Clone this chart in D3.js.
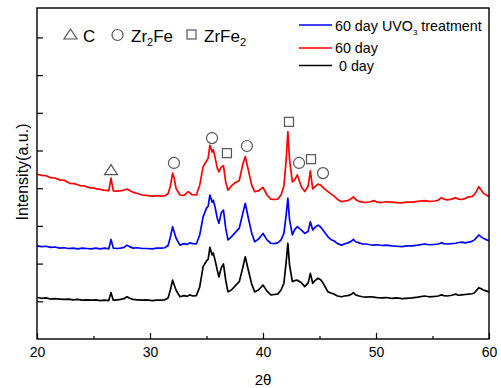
<!DOCTYPE html>
<html><head><meta charset="utf-8">
<script src="https://cdn.jsdelivr.net/npm/d3@7"></script>
<style>body{margin:0;background:#fff}svg{display:block;font-family:"Liberation Sans",Arial,sans-serif}</style>
</head><body><svg id="c" width="501" height="388"></svg>
<script>
// 2θ, intensity (a.u.)
const red60 = [[20,4.37],[20.4,4.34],[20.8,4.33],[21.2,4.28],[21.6,4.27],[22,4.22],[22.4,4.21],[22.9,4.13],[23.3,4.12],[23.8,4.07],[24.2,4.06],[24.7,4.01],[25.0,4.01],[25.3,3.98],[25.6,3.97],[25.9,3.95],[26.2,3.94],[26.35,3.93],[26.55,4.27],[26.75,3.93],[27.0,3.92],[27.3,3.93],[27.6,3.94],[27.96,3.98],[28.2,3.94],[28.5,3.89],[28.9,3.86],[29.3,3.82],[29.7,3.81],[30.2,3.79],[30.6,3.80],[31.0,3.79],[31.3,3.80],[31.6,3.85],[31.8,4.05],[32.0,4.40],[32.15,4.25],[32.3,4.00],[32.65,3.82],[33.0,3.81],[33.4,3.91],[33.7,3.83],[34.1,3.82],[34.4,4.08],[34.7,4.57],[35.0,4.72],[35.15,4.80],[35.3,5.14],[35.5,4.96],[35.6,5.02],[35.75,4.83],[35.95,4.54],[36.1,4.43],[36.3,4.56],[36.5,4.60],[36.7,4.16],[36.9,3.95],[37.2,4.06],[37.6,4.16],[37.9,4.20],[38.2,4.62],[38.43,4.84],[38.7,4.48],[39.0,4.08],[39.26,3.91],[39.6,3.93],[40.0,4.02],[40.35,3.82],[40.7,3.71],[41.0,3.70],[41.3,3.71],[41.6,3.82],[41.85,4.06],[42.05,4.75],[42.2,5.50],[42.35,4.75],[42.6,4.17],[42.8,4.22],[43.04,4.35],[43.4,4.03],[43.7,3.91],[44.0,4.06],[44.19,4.46],[44.4,3.98],[44.6,4.04],[44.87,4.11],[45.1,4.08],[45.3,4.02],[45.75,3.91],[46.0,3.85],[46.3,3.79],[46.6,3.70],[46.96,3.64],[47.2,3.66],[47.5,3.67],[47.8,3.72],[48.0,3.77],[48.2,3.70],[48.5,3.65],[48.8,3.63],[49.1,3.62],[49.5,3.64],[49.8,3.67],[50.1,3.63],[50.5,3.62],[50.9,3.64],[51.4,3.63],[51.8,3.62],[52.3,3.61],[52.7,3.63],[53.2,3.63],[53.7,3.65],[54.3,3.67],[54.7,3.65],[55.2,3.66],[55.5,3.68],[55.8,3.75],[56.0,3.71],[56.3,3.69],[56.7,3.71],[57.05,3.75],[57.3,3.71],[57.6,3.70],[57.9,3.73],[58.2,3.77],[58.5,3.78],[58.7,3.83],[58.9,3.92],[59.1,4.04],[59.3,3.95],[59.5,3.87],[59.8,3.81],[60,3.78]];
const blueUVO = [[20,2.47],[20.4,2.45],[20.8,2.46],[21.2,2.43],[21.6,2.44],[22,2.41],[22.4,2.42],[22.8,2.40],[23.2,2.41],[23.6,2.39],[24,2.41],[24.4,2.40],[24.8,2.39],[25.2,2.41],[25.6,2.39],[26,2.41],[26.35,2.39],[26.55,2.64],[26.75,2.41],[27.1,2.40],[27.4,2.41],[27.7,2.43],[27.96,2.49],[28.2,2.45],[28.5,2.41],[28.9,2.42],[29.3,2.40],[29.7,2.40],[30.2,2.39],[30.6,2.41],[31.0,2.41],[31.3,2.42],[31.6,2.48],[31.8,2.70],[32.0,2.98],[32.3,2.68],[32.65,2.49],[33.0,2.53],[33.3,2.51],[33.5,2.55],[33.8,2.53],[34.1,2.52],[34.4,2.76],[34.7,3.24],[35.0,3.47],[35.15,3.52],[35.3,3.82],[35.5,3.63],[35.6,3.68],[35.75,3.51],[35.95,3.21],[36.1,3.07],[36.3,3.34],[36.5,3.42],[36.7,2.94],[36.9,2.63],[37.2,2.71],[37.6,2.84],[37.9,2.94],[38.2,3.32],[38.43,3.60],[38.7,3.21],[39.0,2.81],[39.26,2.58],[39.6,2.65],[40.0,2.80],[40.35,2.63],[40.7,2.54],[41.0,2.53],[41.3,2.55],[41.6,2.63],[41.85,2.80],[42.05,3.29],[42.2,3.73],[42.35,3.16],[42.6,2.76],[42.8,2.90],[43.04,2.98],[43.4,2.89],[43.7,2.80],[44.0,2.86],[44.19,3.11],[44.4,2.89],[44.6,2.96],[44.87,3.02],[45.1,2.97],[45.3,2.89],[45.75,2.71],[46.0,2.64],[46.3,2.60],[46.6,2.53],[46.96,2.49],[47.2,2.52],[47.5,2.55],[47.8,2.59],[48.0,2.64],[48.2,2.58],[48.5,2.55],[48.8,2.52],[49.1,2.52],[49.5,2.50],[49.8,2.49],[50.1,2.50],[50.5,2.48],[50.9,2.49],[51.4,2.47],[51.8,2.46],[52.3,2.45],[52.7,2.47],[53.2,2.47],[53.7,2.49],[54.3,2.52],[54.7,2.50],[55.2,2.51],[55.5,2.52],[55.8,2.55],[56.0,2.53],[56.3,2.52],[56.7,2.53],[57.05,2.54],[57.3,2.56],[57.6,2.57],[57.9,2.55],[58.2,2.57],[58.5,2.59],[58.7,2.63],[58.9,2.69],[59.1,2.76],[59.3,2.71],[59.5,2.67],[59.8,2.63],[60,2.61]];
const black0 = [[20,1.10],[20.4,1.08],[20.8,1.09],[21.2,1.06],[21.6,1.07],[22,1.06],[22.4,1.05],[22.8,1.06],[23.2,1.04],[23.6,1.05],[24,1.03],[24.4,1.04],[24.8,1.03],[25.2,1.04],[25.6,1.02],[26,1.03],[26.35,1.02],[26.55,1.23],[26.75,1.03],[27.1,1.04],[27.4,1.05],[27.7,1.07],[27.96,1.12],[28.2,1.08],[28.5,1.05],[28.9,1.04],[29.3,1.03],[29.7,1.04],[30.2,1.02],[30.6,1.03],[31.0,1.03],[31.3,1.04],[31.6,1.09],[31.8,1.30],[32.0,1.56],[32.3,1.30],[32.65,1.12],[33.0,1.15],[33.3,1.13],[33.5,1.17],[33.8,1.14],[34.1,1.15],[34.4,1.38],[34.7,1.92],[35.0,2.07],[35.15,2.12],[35.3,2.43],[35.5,2.23],[35.6,2.28],[35.75,2.10],[35.95,1.83],[36.1,1.65],[36.3,1.88],[36.5,1.99],[36.7,1.56],[36.9,1.25],[37.2,1.30],[37.6,1.43],[37.9,1.52],[38.2,1.88],[38.43,2.18],[38.7,1.83],[39.0,1.46],[39.26,1.25],[39.6,1.30],[40.0,1.43],[40.35,1.27],[40.7,1.17],[41.0,1.18],[41.3,1.19],[41.6,1.30],[41.85,1.48],[42.05,2.04],[42.2,2.54],[42.35,1.96],[42.6,1.52],[42.8,1.55],[43.04,1.56],[43.4,1.49],[43.7,1.39],[44.0,1.49],[44.19,1.74],[44.4,1.48],[44.6,1.55],[44.87,1.61],[45.1,1.57],[45.3,1.49],[45.75,1.25],[46.0,1.22],[46.3,1.19],[46.6,1.14],[46.96,1.12],[47.2,1.14],[47.5,1.15],[47.8,1.18],[48.0,1.23],[48.2,1.17],[48.5,1.14],[48.8,1.12],[49.1,1.11],[49.5,1.12],[49.8,1.11],[50.1,1.10],[50.5,1.09],[50.9,1.10],[51.4,1.08],[51.8,1.09],[52.3,1.07],[52.7,1.08],[53.2,1.09],[53.7,1.11],[54.3,1.14],[54.7,1.12],[55.2,1.13],[55.5,1.14],[55.8,1.17],[56.0,1.15],[56.3,1.14],[56.7,1.16],[57.05,1.19],[57.3,1.16],[57.6,1.17],[57.9,1.18],[58.2,1.19],[58.5,1.20],[58.7,1.22],[58.9,1.29],[59.1,1.36],[59.3,1.33],[59.5,1.30],[59.8,1.27],[60,1.25]];

const seriesNames = ["60 day UVO3 treatment","60 day","0 day"];
const seriesColors = ["#0000ff","#ff0000","#000000"];

// phase markers: [2θ, intensity]
const markC = [[26.55,4.48]];
const markZr2Fe = [[32.12,4.67],[35.49,5.33],[38.58,5.12],[43.19,4.67],[45.31,4.40]];
const markZrFe2 = [[36.81,4.93],[42.30,5.76],[44.25,4.77]];

const xTicks = [20,30,40,50,60];
const xMinor = [25,35,45,55];
const yTicks = [1,2,3,4,5,6,7,8];

const svg = d3.select("#c");
const L=37,R=489,T=8,B=339;
const x = d3.scaleLinear().domain([20,60]).range([L,R]);
const y = d3.scaleLinear().domain([0,8.78]).range([B,T]);

const line = d3.line().x(d=>x(d[0])).y(d=>y(d[1]));
const data = [blueUVO, red60, black0];
[1,0,2].forEach(i=>{
  svg.append("path").attr("d",line(data[i])).attr("fill","none")
    .attr("stroke",seriesColors[i]).attr("stroke-width",1.7).attr("stroke-linejoin","round");
});

// axes
const gx = svg.append("g").attr("transform",`translate(0,${B})`)
  .call(d3.axisBottom(x).tickValues(xTicks).tickSizeInner(-6).tickSizeOuter(0).tickPadding(8).tickFormat(d3.format("d")));
svg.append("g").attr("transform",`translate(0,${B})`)
  .call(d3.axisBottom(x).tickValues(xMinor).tickSizeInner(-3).tickSizeOuter(0).tickFormat(""));
svg.append("g").attr("transform",`translate(${L},0)`)
  .call(d3.axisLeft(y).tickValues(yTicks).tickSizeInner(-6).tickSizeOuter(0).tickFormat(""));
svg.selectAll(".domain").remove();
svg.selectAll(".tick line").attr("stroke","#000").attr("stroke-width",1.2);
gx.selectAll("text").attr("font-size",14).attr("fill","#000").attr("font-family","Liberation Sans, Arial, sans-serif");
svg.append("rect").attr("x",L).attr("y",T).attr("width",R-L).attr("height",B-T)
  .attr("fill","none").attr("stroke","#000").attr("stroke-width",1.4);

// axis titles
svg.append("text").attr("x",263).attr("y",385).attr("text-anchor","middle").attr("font-size",15).text("2θ");
svg.append("text").attr("transform","translate(28,172) rotate(-90)").attr("text-anchor","middle").attr("font-size",16).text("Intensity(a.u.)");

// markers
const mk = "#555";
function tri(g,cx,cy){ g.append("path").attr("d",`M${cx},${cy-5.5} L${cx+6.5},${cy+4.5} L${cx-6.5},${cy+4.5} Z`).attr("fill","none").attr("stroke",mk).attr("stroke-width",1.2); }
function circ(g,cx,cy){ g.append("circle").attr("cx",cx).attr("cy",cy).attr("r",5.5).attr("fill","none").attr("stroke",mk).attr("stroke-width",1.2); }
function sq(g,cx,cy){ g.append("rect").attr("x",cx-4.5).attr("y",cy-4.5).attr("width",9).attr("height",9).attr("fill","none").attr("stroke",mk).attr("stroke-width",1.2); }
const gm = svg.append("g");
markC.forEach(d=>tri(gm,x(d[0]),y(d[1])));
markZr2Fe.forEach(d=>circ(gm,x(d[0]),y(d[1])));
markZrFe2.forEach(d=>sq(gm,x(d[0]),y(d[1])));

// phase key (top-left)
tri(gm,70.5,34.5);
svg.append("text").attr("x",83).attr("y",42).attr("font-size",17).text("C");
circ(gm,117.5,35);
const t1 = svg.append("text").attr("x",131).attr("y",42).attr("font-size",17);
t1.append("tspan").text("Zr");
t1.append("tspan").attr("font-size",11).attr("dy",4).text("2");
t1.append("tspan").attr("dy",-4).text("Fe");
sq(gm,191.5,34.5);
const t2 = svg.append("text").attr("x",204).attr("y",42).attr("font-size",17);
t2.append("tspan").text("ZrFe");
t2.append("tspan").attr("font-size",11).attr("dy",4).text("2");

// series legend (top-right)
const legY = [25,48,65.5];
const legTextY = [31,53,70.5];
const legX = [335,335,339];
seriesNames.forEach((n,i)=>{
  svg.append("line").attr("x1",299).attr("x2",332).attr("y1",legY[i]).attr("y2",legY[i])
    .attr("stroke",seriesColors[i]).attr("stroke-width",1.6);
  const t = svg.append("text").attr("x",legX[i]).attr("y",legTextY[i]).attr("font-size",14.3);
  if(i===0){
    t.append("tspan").text("60 day UVO");
    t.append("tspan").attr("font-size",8).attr("dy",4).text("3");
    t.append("tspan").attr("dy",-4).text(" treatment");
  } else t.text(n);
});
</script></body></html>
